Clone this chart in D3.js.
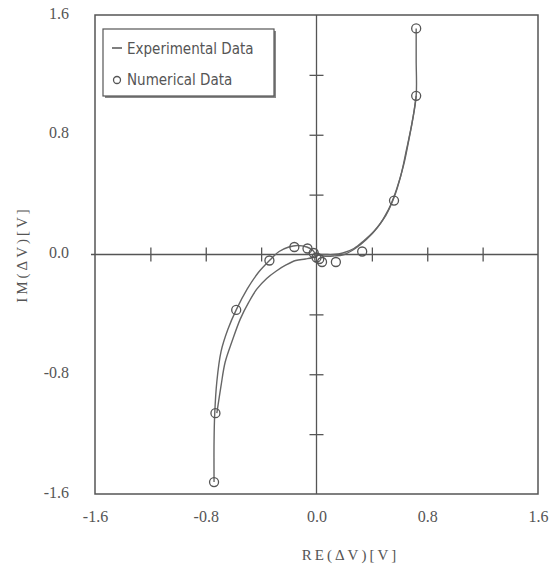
<html>
  <head>
    <title>complex dV plot</title>
    <style>
      body { margin: 0; background: #fff; }
      .lbl text { font: 16px "Liberation Serif", serif; fill: #555; }
      .title { font: 15px "Liberation Serif", serif; fill: #555; letter-spacing: 3px; }
      .legend text { font: 15px "DejaVu Sans Condensed", "DejaVu Sans", sans-serif; fill: #555; }
    </style>
    <script src="https://d3js.org/d3.v7.min.js"></script>
  </head>
  <body>
    <svg class="chart"></svg>
    <script>
// experimental curve 1 (passes near the numerical points)
var expA = [
  [-0.74, -1.52], [-0.74, -1.25], [-0.735, -1.06], [-0.72, -0.85], [-0.69, -0.65],
  [-0.64, -0.50], [-0.58, -0.37], [-0.50, -0.23], [-0.42, -0.12], [-0.34, -0.04],
  [-0.27, 0.02], [-0.20, 0.05], [-0.14, 0.06], [-0.07, 0.05], [-0.03, 0.03],
  [0.0, 0.0], [0.05, -0.01], [0.12, -0.01], [0.20, 0.0], [0.28, 0.04],
  [0.36, 0.10], [0.44, 0.18], [0.52, 0.30], [0.58, 0.44], [0.63, 0.60],
  [0.67, 0.78], [0.70, 0.93], [0.72, 1.06]
];
// experimental curve 2
var expB = [
  [-0.72, -1.06], [-0.69, -0.88], [-0.66, -0.72], [-0.61, -0.58], [-0.55, -0.43],
  [-0.49, -0.32], [-0.43, -0.23], [-0.36, -0.16], [-0.29, -0.11], [-0.22, -0.07],
  [-0.15, -0.04], [-0.08, -0.03], [-0.03, -0.02], [0.0, 0.0], [0.06, 0.0],
  [0.12, 0.0], [0.19, 0.01], [0.27, 0.04], [0.34, 0.09], [0.42, 0.16],
  [0.50, 0.26], [0.56, 0.38], [0.61, 0.53], [0.65, 0.70], [0.69, 0.88],
  [0.72, 1.06], [0.72, 1.30], [0.72, 1.51]
];
// numerical data (circles)
var numX = [-0.74, -0.73, -0.58, -0.34, -0.16, -0.065, -0.02, 0.0, 0.02, 0.04, 0.14, 0.33, 0.56, 0.72, 0.72];
var numY = [-1.52, -1.06, -0.37, -0.04, 0.05, 0.04, 0.01, -0.02, -0.03, -0.05, -0.05, 0.02, 0.36, 1.06, 1.51];

var tickLabels = [-1.6, -0.8, 0.0, 0.8, 1.6];
var crossTicks = [-1.2, -0.8, -0.4, 0.4, 0.8, 1.2];

var width = 553, height = 573;
var mLeft = 95, mRight = 538, mTop = 15, mBottom = 494;

var x = d3.scaleLinear().domain([-1.6, 1.6]).range([mLeft, mRight]);
var y = d3.scaleLinear().domain([-1.6, 1.6]).range([mBottom, mTop]);

var fmt = function(d) { return d3.format(".1f")(d).replace("\u2212", "-"); };

var svg = d3.select(".chart").attr("width", width).attr("height", height);

// frame
svg.append("rect")
    .attr("x", mLeft).attr("y", mTop)
    .attr("width", mRight - mLeft).attr("height", mBottom - mTop)
    .attr("fill", "none").attr("stroke", "#555").attr("stroke-width", 1.5);

// zero lines with crossing ticks
var xZero = svg.append("g").attr("transform", "translate(0," + y(0) + ")")
    .call(d3.axisBottom(x).tickValues(crossTicks).tickSize(14).tickFormat(""));
xZero.selectAll(".tick line").attr("y1", -7).attr("y2", 7);
var yZero = svg.append("g").attr("transform", "translate(" + x(0) + ",0)")
    .call(d3.axisLeft(y).tickValues(crossTicks).tickSize(14).tickFormat(""));
yZero.selectAll(".tick line").attr("x1", -7).attr("x2", 7);
svg.selectAll(".domain").remove();
svg.selectAll(".tick line").attr("stroke", "#555").attr("stroke-width", 1.3);

svg.append("line").attr("x1", mLeft - 4).attr("x2", mRight)
    .attr("y1", y(0)).attr("y2", y(0)).attr("stroke", "#555").attr("stroke-width", 1.3);
svg.append("line").attr("x1", x(0)).attr("x2", x(0))
    .attr("y1", mTop).attr("y2", mBottom).attr("stroke", "#555").attr("stroke-width", 1.3);

// tick labels
var xl = svg.append("g").attr("class", "lbl").attr("transform", "translate(0," + (mBottom + 14) + ")")
    .call(d3.axisBottom(x).tickValues(tickLabels).tickSize(0).tickFormat(fmt));
var yl = svg.append("g").attr("class", "lbl").attr("transform", "translate(" + (mLeft - 23) + ",0)")
    .call(d3.axisLeft(y).tickValues(tickLabels).tickSize(0).tickFormat(fmt));
svg.selectAll(".lbl .domain").remove();
svg.selectAll(".lbl text").attr("font-family", null).attr("font-size", null).attr("fill", null);
yl.selectAll("text").attr("dy", "0.2em");

// axis titles
svg.append("text").attr("class", "title")
    .attr("x", x(0) + 34).attr("y", 560).attr("text-anchor", "middle")
    .text("RE(ΔV)[V]");
svg.append("text").attr("class", "title")
    .attr("transform", "translate(27," + y(0) + ") rotate(-90)")
    .attr("text-anchor", "middle")
    .text("IM(ΔV)[V]");

// curves
var line = d3.line().x(function(d) { return x(d[0]); }).y(function(d) { return y(d[1]); })
    .curve(d3.curveCatmullRom);
[expA, expB].forEach(function(s) {
  svg.append("path").datum(s).attr("d", line)
      .attr("fill", "none").attr("stroke", "#666").attr("stroke-width", 1.4);
});

// numerical points
svg.selectAll(".pt").data(numX).enter().append("circle")
    .attr("class", "pt")
    .attr("cx", function(d) { return x(d); })
    .attr("cy", function(d, i) { return y(numY[i]); })
    .attr("r", 4.5)
    .attr("fill", "none").attr("stroke", "#555").attr("stroke-width", 1.3);

// legend
var lg = svg.append("g").attr("class", "legend");
lg.append("rect").attr("x", 105).attr("y", 31).attr("width", 171).attr("height", 67)
    .attr("fill", "#888");
lg.append("rect").attr("x", 103).attr("y", 29).attr("width", 171).attr("height", 67)
    .attr("fill", "#fff").attr("stroke", "#555").attr("stroke-width", 1.2);
lg.append("line").attr("x1", 112).attr("x2", 122).attr("y1", 48).attr("y2", 48)
    .attr("stroke", "#555").attr("stroke-width", 1.5);
lg.append("circle").attr("cx", 117).attr("cy", 80).attr("r", 3.5)
    .attr("fill", "none").attr("stroke", "#555").attr("stroke-width", 1.3);
lg.append("text").attr("x", 127).attr("y", 54).text("Experimental Data");
lg.append("text").attr("x", 127).attr("y", 85).text("Numerical Data");
    </script>
  </body>
</html>
